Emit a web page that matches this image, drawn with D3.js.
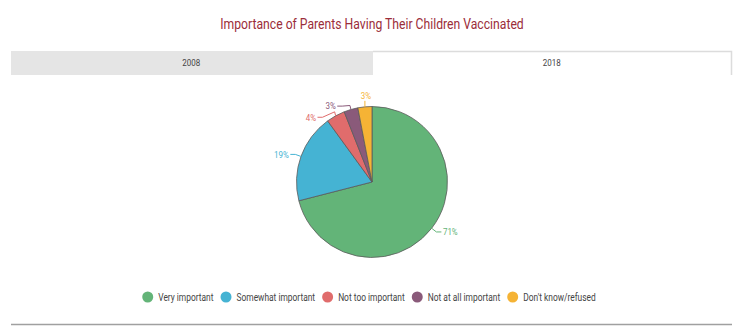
<!DOCTYPE html>
<html><head><meta charset="utf-8">
<script src="https://cdn.jsdelivr.net/npm/d3@7"></script>
<style>body{margin:0;background:#fff;} text{font-family:Roboto, "Open Sans", sans-serif;}</style>
</head><body>
<svg id="c" width="750" height="334"></svg>
<script>
const title = "Importance of Parents Having Their Children Vaccinated";
const tabs = ["2008", "2018"];
const categories = ["Very important", "Somewhat important", "Not too important", "Not at all important", "Don't know/refused"];
const values2018 = [71, 19, 4, 3, 3];
const colors = ["#63b478", "#45b3d3", "#e06c6c", "#8a5a7a", "#f5b335"];

const svg = d3.select("#c");
const SQ = 0.84; // condensed look
function condense(sel) {
  sel.each(function () {
    const n = this; const w = n.getComputedTextLength();
    d3.select(n).attr("textLength", w * SQ).attr("lengthAdjust", "spacingAndGlyphs");
  });
}

svg.append("text").attr("x", 372).attr("y", 29).attr("text-anchor", "middle")
  .attr("font-size", 14.5).attr("fill", "#9b2d3a").text(title).call(condense);

// tabs
svg.append("rect").attr("x", 11).attr("y", 51).attr("width", 362).attr("height", 24).attr("fill", "#e5e5e5");
svg.append("path").attr("d", "M373,51.5 H731.5 V75").attr("fill", "none").attr("stroke", "#dcdcdc").attr("stroke-width", 1.5);
const tabX = d3.scaleBand().domain(tabs).range([11, 732]);
svg.selectAll(".tab").data(tabs).join("text").attr("class", "tab")
  .attr("x", d => tabX(d) + tabX.bandwidth() / 2).attr("y", 66).attr("text-anchor", "middle")
  .attr("font-size", 9.5).attr("fill", "#444").text(d => d).call(condense);

// pie
const cx = 372, cy = 182, r = 75.5;
const data = categories.map((c, i) => ({ c, v: values2018[i], col: colors[i] }));
const pie = d3.pie().value(d => d.v).sort(null);
const arcs = pie(data);
const arc = d3.arc().innerRadius(0).outerRadius(r);
const g = svg.append("g").attr("transform", `translate(${cx},${cy})`);
g.selectAll("path.slice").data(arcs).join("path").attr("class", "slice")
  .attr("d", arc).attr("fill", d => d.data.col).attr("stroke", "#5a5a5a").attr("stroke-width", 0.8);

// labels with simple spreading for small slices near the top
const mids = arcs.map(a => (a.startAngle + a.endAngle) / 2);
const labA = mids.slice();
const minSep = 16 * Math.PI / 180;
for (let i = labA.length - 2; i >= 2; i--) {
  labA[i] = Math.min(mids[i], labA[i + 1] - minSep);
}
arcs.forEach((a, i) => {
  const m = mids[i], la = labA[i];
  const p1 = [r * Math.sin(m), -r * Math.cos(m)];
  const s = Math.sin(la);
  let pts, tx, ty, anchor;
  if (Math.abs(s) < 0.15) {
    const yb = p1[1] - 6;
    pts = [p1, [p1[0], yb]];
    tx = p1[0] + 1; ty = yb - 2; anchor = "middle";
  } else {
    const rl = r + 6;
    const p2 = [rl * Math.sin(la), -rl * Math.cos(la)];
    const dir = s > 0 ? 1 : -1;
    const p3 = [p2[0] + dir * 5, p2[1]];
    pts = (la === m) ? [p1, p2, p3] : [p1, [p1[0] + dir * 1, p1[1] - 4], p2, p3];
    tx = p3[0] + dir * 1.5; ty = p3[1] + 3.3; anchor = dir > 0 ? "start" : "end";
  }
  g.append("path").attr("d", d3.line()(pts)).attr("fill", "none")
    .attr("stroke", a.data.col).attr("stroke-width", 1);
  g.append("text").attr("x", tx).attr("y", ty).attr("text-anchor", anchor)
    .attr("font-size", 9.5).attr("fill", a.data.col).text(a.data.v + "%").call(condense);
});

// legend
const lg = svg.append("g");
const items = lg.selectAll("g").data(data).join("g");
items.append("circle").attr("r", 5.5).attr("cx", 5.5).attr("cy", 0).attr("fill", d => d.col);
items.append("text").attr("x", 16).attr("y", 3.8).attr("font-size", 10).attr("fill", "#444").text(d => d.c).call(condense);
let x = 0; const offs = [];
const gap = 7;
items.each(function () {
  offs.push(x);
  const tw = +d3.select(this).select("text").attr("textLength");
  x += 16 + tw + gap;
});
const total = x - gap;
const x0 = 369 - total / 2;
items.attr("transform", (d, i) => `translate(${x0 + offs[i]},297)`);

// bottom rule
svg.append("line").attr("x1", 11).attr("x2", 732).attr("y1", 324.5).attr("y2", 324.5)
  .attr("stroke", "#a0a0a0").attr("stroke-width", 1.5);
</script>
</body></html>
